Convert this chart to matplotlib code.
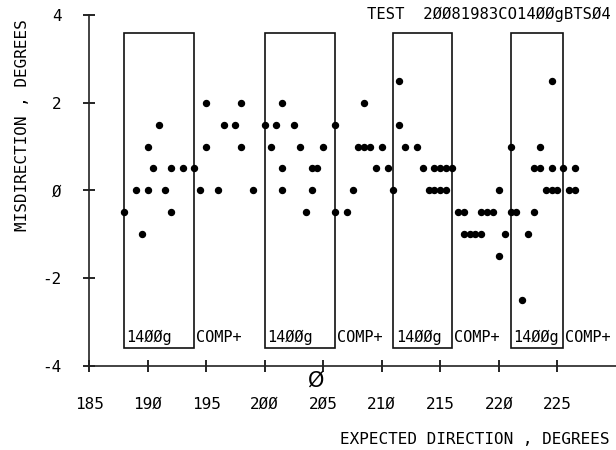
import matplotlib.pyplot as plt
from matplotlib.patches import Rectangle

# misdirection readings (expected direction, misdirection) in degrees
expected = [188, 189, 189.5, 190, 190, 190.5, 191, 191.5, 192, 192, 193, 194,
            194.5, 195, 195, 196, 196.5, 197.5, 198, 198, 199,
            200, 200.5, 201, 201.5, 201.5, 201.5, 202.5, 203, 203.5, 204, 204.5,
            204, 205, 206, 206, 207, 207.5, 208, 208.5, 209, 208.5, 209.5, 210,
            210.5, 211, 211.5, 211.5, 212, 213, 213.5, 214.5, 215, 215.5, 216,
            214, 214.5, 215, 215.5, 216.5, 217, 217, 217.5, 218, 218.5, 218.5,
            219, 219.5, 220, 220, 220.5, 221, 221, 221.5, 222, 222.5, 223, 223,
            223.5, 223.5, 224, 224.5, 225, 224.5, 224.5, 225.5, 226, 226.5, 226.5]
misdir = [-0.5, 0, -1, 0, 1, 0.5, 1.5, 0, -0.5, 0.5, 0.5, 0.5,
          0, 1, 2, 0, 1.5, 1.5, 2, 1, 0,
          1.5, 1, 1.5, 2, 0.5, 0, 1.5, 1, -0.5, 0.5, 0.5,
          0, 1, 1.5, -0.5, -0.5, 0, 1, 1, 1, 2, 0.5, 1,
          0.5, 0, 2.5, 1.5, 1, 1, 0.5, 0.5, 0.5, 0.5, 0.5,
          0, 0, 0, 0, -0.5, -0.5, -1, -1, -1, -1, -0.5,
          -0.5, -0.5, 0, -1.5, -1, 1, -0.5, -0.5, -2.5, -1, -0.5, 0.5,
          0.5, 1, 0, 0, 0, 0.5, 2.5, 0.5, 0, 0, 0.5]

# 1400g segments
box_start = [188, 200, 211, 221]
box_end = [194, 206, 216, 225.5]
box_low, box_high = -3.6, 3.6

xticks = [185, 190, 195, 200, 205, 210, 215, 220, 225]
xtick_labels = ['185', '19Ø', '195', '2ØØ', '2Ø5', '21Ø', '215', '22Ø', '225']
yticks = [-4, -2, 0, 2, 4]
ytick_labels = ['-4', '-2', 'Ø', '2', '4']

mono = 'DejaVu Sans Mono'
plt.rcParams['font.family'] = mono

fig = plt.figure(figsize=(6.16, 4.5), dpi=100)
ax = fig.add_axes([0.1445, 0.1873, 0.8555, 0.7793])

ax.set_xlim(185, 230)
ax.set_ylim(-4, 4)

# boxes + labels
for x0, x1 in zip(box_start, box_end):
    ax.add_patch(Rectangle((x0, box_low), x1 - x0, box_high - box_low,
                           fill=False, edgecolor='#111111', linewidth=1.2))
    ax.text(x0 + 0.2, -3.45, '14ØØg', fontsize=11, va='baseline', ha='left')
    ax.text(x1 + 0.15, -3.45, 'COMP+', fontsize=11, va='baseline', ha='left')

ax.plot(expected, misdir, 'o', color='black', markersize=4.3, clip_on=False)

# axes styling
for side in ['top', 'right']:
    ax.spines[side].set_visible(False)
ax.spines['left'].set_linewidth(1.2)
ax.spines['bottom'].set_linewidth(1.2)
ax.spines['left'].set_color('#222222')
ax.spines['bottom'].set_color('#222222')

ax.set_xticks(xticks)
ax.set_xticklabels(xtick_labels, fontsize=11.5)
ax.set_yticks(yticks)
ax.set_yticklabels(ytick_labels, fontsize=11.5)
ax.tick_params(axis='x', direction='inout', length=9, width=1.2, pad=18)
ax.tick_params(axis='y', direction='inout', length=9, width=1.2, pad=15)

# phi marker under the axis
ax.text(204.4, -4.35, 'Ø', fontsize=15, ha='center', va='center',
        family='DejaVu Sans')

fig.text(23 / 616, 1 - 125 / 450, 'MISDIRECTION , DEGREES', rotation=90,
         ha='center', va='center', fontsize=11.5)
fig.text(609 / 616, 1 - 439 / 450, 'EXPECTED DIRECTION , DEGREES',
         ha='right', va='center', fontsize=11.5)
fig.text(611 / 616, 1 - 14 / 450, 'TEST  2ØØ81983CO14ØØgBTSØ4',
         ha='right', va='center', fontsize=11.2)

fig.savefig('out.png', dpi=100)
